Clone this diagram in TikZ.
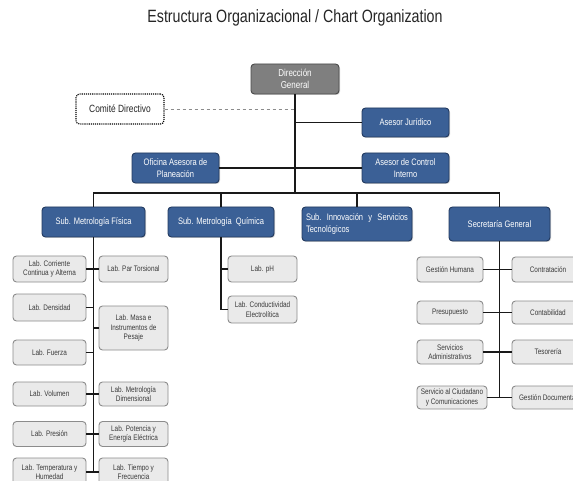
\documentclass[tikz,border=0pt]{standalone}
\usepackage{fontspec}
\setmainfont[FakeStretch=0.8]{Liberation Sans}
\newfontfamily\titlefont[FakeStretch=0.8]{Liberation Sans}
\usetikzlibrary{shadows}
\definecolor{boxblue}{HTML}{3B6096}
\definecolor{boxblueline}{HTML}{22395E}
\definecolor{labfill}{HTML}{EAEAEA}
\definecolor{labline}{HTML}{8C8C8C}
\definecolor{dgfill}{HTML}{7F7F7F}
\definecolor{dgline}{HTML}{4A4A4A}
\definecolor{labtext}{HTML}{3A3A3A}
\tikzset{
  bluebox/.style={draw=boxblueline, line width=0.9pt, fill=boxblue, rounded corners=3.5pt,
    text=white, font=\fontsize{9.4}{12.3}\selectfont, align=center, inner sep=1pt,
    drop shadow={shadow xshift=1pt, shadow yshift=-1pt, opacity=0.35}},
  dgbox/.style={bluebox, fill=dgfill, draw=dgline, font=\fontsize{10}{12.5}\selectfont},
  labbox/.style={draw=labline, line width=0.9pt, fill=labfill, rounded corners=3.5pt,
    text=labtext, font=\fontsize{8}{9.4}\selectfont, align=center, inner sep=1pt},
  dotbox/.style={draw=black, densely dotted, line width=1.1pt, rounded corners=3.5pt,
    fill=white, font=\fontsize{10.5}{12}\selectfont, text=black!85, align=center},
  conn/.style={draw=black!90, line width=1.6pt},
  dashconn/.style={draw=black!45, dashed, line width=0.6pt},
}
\begin{document}
\begin{tikzpicture}[x=1pt, y=-1pt]
\useasboundingbox (0,0) rectangle (573,481);
\clip (0,0) rectangle (573,481);
\fill[white] (0,0) rectangle (573,481);

% title
\node[font=\titlefont\fontsize{17.8}{20}\selectfont, text=black!85] (title) at (295,18) {Estructura Organizacional / Chart Organization};

% top level
\node[dgbox, minimum width=88, minimum height=30] (dg) at (295,79) {Dirección\\General};
\node[dotbox, minimum width=88, minimum height=30] (comite) at (120,109) {Comité Directivo};
\node[bluebox, minimum width=87, minimum height=29] (aj) at (405.5,122.5) {Asesor Jurídico};
\node[bluebox, minimum width=87, minimum height=30] (of) at (175.5,168) {Oficina Asesora de\\Planeación};
\node[bluebox, minimum width=87, minimum height=30] (ac) at (405.5,168) {Asesor de Control\\Interno};

% subdirections
\node[bluebox, minimum width=103, minimum height=30] (smf) at (93.5,222) {Sub. Metrología Física};
\node[bluebox, minimum width=106, minimum height=30] (smq) at (221,222) {Sub. Metrología\ \ Química};
\node[bluebox, minimum width=110, minimum height=34, align=left, text width=102] (sit) at (357,224) {Sub.\hfill Innovación\hfill y\hfill Servicios\\Tecnológicos};
\node[bluebox, minimum width=101, minimum height=34] (sg) at (499.5,224) {Secretaría General};

% Física labs
\node[labbox, minimum width=73, minimum height=26] (lcc) at (49.5,269) {Lab. Corriente\\Continua y Alterna};
\node[labbox, minimum width=73, minimum height=27] (lden) at (49.5,307.5) {Lab. Densidad};
\node[labbox, minimum width=73, minimum height=25] (lfue) at (49.5,352.5) {Lab. Fuerza};
\node[labbox, minimum width=73, minimum height=24] (lvol) at (49.5,394) {Lab. Volumen};
\node[labbox, minimum width=73, minimum height=25] (lpre) at (49.5,434) {Lab. Presión};
\node[labbox, minimum width=73, minimum height=28] (ltem) at (49.5,472) {Lab. Temperatura y\\Humedad};
\node[labbox, minimum width=69, minimum height=26] (lpt) at (133.5,269) {Lab. Par Torsional};
\node[labbox, minimum width=69, minimum height=44] (lmasa) at (133.5,328) {Lab. Masa e\\Instrumentos de\\Pesaje};
\node[labbox, minimum width=69, minimum height=24] (lmd) at (133.5,394) {Lab. Metrología\\Dimensional};
\node[labbox, minimum width=69, minimum height=25] (lpot) at (133.5,434) {Lab. Potencia y\\Energía Eléctrica};
\node[labbox, minimum width=69, minimum height=28] (ltie) at (133.5,472) {Lab. Tiempo y\\Frecuencia};

% Química labs
\node[labbox, minimum width=69, minimum height=26] (lph) at (262.5,269) {Lab. pH};
\node[labbox, minimum width=69, minimum height=27] (lce) at (262.5,309.5) {Lab. Conductividad\\Electrolítica};

% Secretaría
\node[labbox, minimum width=66, minimum height=25] (gh) at (450,269.5) {Gestión Humana};
\node[labbox, minimum width=66, minimum height=23] (pres) at (450,312.5) {Presupuesto};
\node[labbox, minimum width=66, minimum height=24] (sa) at (450,352) {Servicios\\Administrativos};
\node[labbox, minimum width=70, minimum height=23] (sc) at (452,397.5) {Servicio al Ciudadano\\y Comunicaciones};
\node[labbox, minimum width=72, minimum height=25] (contr) at (548,269.5) {Contratación};
\node[labbox, minimum width=72, minimum height=23] (cont) at (548,312.5) {Contabilidad};
\node[labbox, minimum width=72, minimum height=24] (teso) at (548,352) {Tesorería};
\node[labbox, minimum width=72, minimum height=23] (gd) at (548,397.5) {Gestión Documental};

% connectors
\coordinate (bus) at (295,193);
\draw[dashconn] (comite.east) -- (comite.east -| dg.south);
\draw[conn] (dg.south) -- (bus);
\draw[conn] (aj.west) -- (aj.west -| dg.south);
\draw[conn] (of.east) -- (ac.west);
\draw[conn] (smf.north) -- (smf.north |- bus) -- (sg.north |- bus) -- (sg.north);
\draw[conn] (smq.north) -- (smq.north |- bus);
\draw[conn] (sit.north) -- (sit.north |- bus);

% Física
\draw[conn] (smf.south) -- (smf.south |- ltem.east);
\draw[conn] (lcc.east) -- (lpt.west);
\draw[conn] (lden.east) -- (lden.east -| smf.south);
\draw[conn] (lmasa.west) -- (lmasa.west -| smf.south);
\draw[conn] (lfue.east) -- (lfue.east -| smf.south);
\draw[conn] (lvol.east) -- (lmd.west);
\draw[conn] (lpre.east) -- (lpot.west);
\draw[conn] (ltem.east) -- (ltie.west);

% Química
\draw[conn] (smq.south) -- (smq.south |- lce.west) -- (lce.west);
\draw[conn] (lph.west) -- (lph.west -| smq.south);

% Secretaría
\draw[conn] (sg.south) -- (sg.south |- sc.east);
\draw[conn] (gh.east) -- (contr.west);
\draw[conn] (pres.east) -- (cont.west);
\draw[conn] (sa.east) -- (teso.west);
\draw[conn] (sc.east) -- (gd.west);
\end{tikzpicture}
\end{document}
